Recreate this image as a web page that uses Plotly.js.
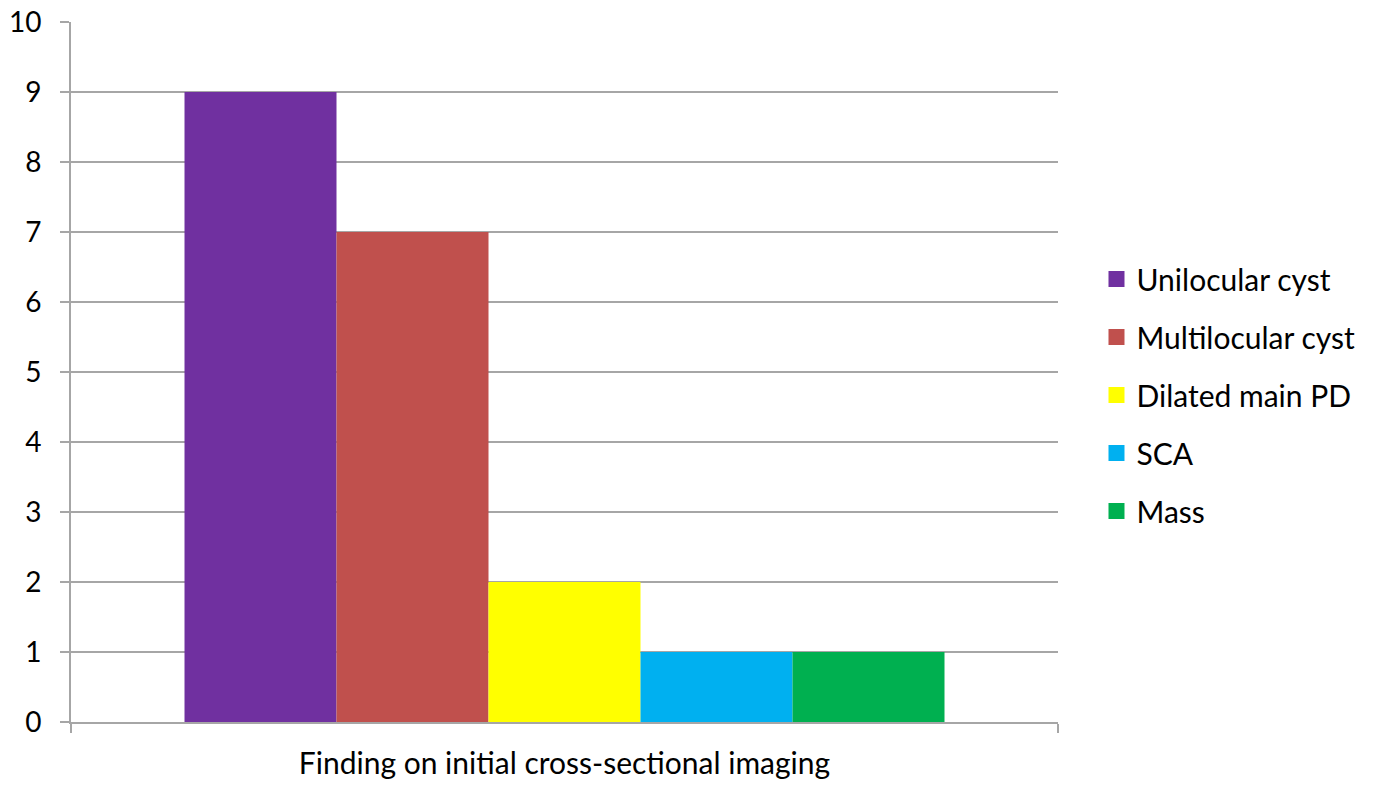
<!DOCTYPE html>
<html><head><meta charset="utf-8">
<script src="https://cdn.plot.ly/plotly-3.0.1.min.js"></script>
<style>html,body{margin:0;padding:0;background:#fff}#chart{width:1376px;height:787px}</style>
</head><body><div id="chart"></div>
<script>
const categories = ["Finding on initial cross-sectional imaging"];
const seriesNames = ["Unilocular cyst", "Multilocular cyst", "Dilated main PD", "SCA", "Mass"];
const seriesValues = [[9], [7], [2], [1], [1]];
const seriesColors = ["#7030A0", "#C0504D", "#FFFF00", "#00B0F0", "#00B050"];
const yTicks = [0,1,2,3,4,5,6,7,8,9,10];

const FONT = "Lato, 'Liberation Sans', sans-serif";
const bars = seriesNames.map((n, i) => ({
  type: "bar", name: n, x: categories, y: seriesValues[i],
  marker: {color: seriesColors[i], line: {width: 0}},
  showlegend: false, hoverinfo: "skip"
}));
// legend entries with larger square swatches
const legendItems = seriesNames.map((n, i) => ({
  type: "scatter", mode: "markers", name: n, x: [null], y: [null],
  marker: {symbol: "square", size: 20, color: seriesColors[i]},
  legendgroup: "g" + i, hoverinfo: "skip"
}));

const layout = {
  width: 1376, height: 787,
  margin: {l: 71, r: 318, t: 22, b: 65},
  paper_bgcolor: "#fff", plot_bgcolor: "#fff",
  font: {family: FONT, color: "#000", size: 28},
  barmode: "group", bargap: 0.23, bargroupgap: 0,
  showlegend: true,
  legend: {x: 1.039, xanchor: "left", y: 0.467, yanchor: "middle",
    font: {family: FONT, size: 30, color: "#000"}, tracegroupgap: 16,
    itemwidth: 30, bgcolor: "rgba(0,0,0,0)"},
  xaxis: {type: "category", tickson: "boundaries", ticks: "outside", ticklen: 9,
    tickcolor: "#a6a6a6", tickwidth: 2, showline: true, linecolor: "#a6a6a6", linewidth: 2,
    showgrid: false, tickfont: {family: FONT, size: 30}, ticklabelstandoff: 14, fixedrange: true},
  yaxis: {range: [0, 10], tickvals: yTicks, ticktext: yTicks.map(String), ticks: "outside", ticklen: 9,
    tickcolor: "#a6a6a6", tickwidth: 2, showline: true, linecolor: "#a6a6a6", linewidth: 2,
    showgrid: true, gridcolor: "#a6a6a6", gridwidth: 2, zeroline: false,
    tickfont: {family: FONT, size: 28}, ticklabelstandoff: 13, fixedrange: true}
};
Plotly.newPlot("chart", bars.concat(legendItems), layout, {staticPlot: true, displayModeBar: false});
</script></body></html>
